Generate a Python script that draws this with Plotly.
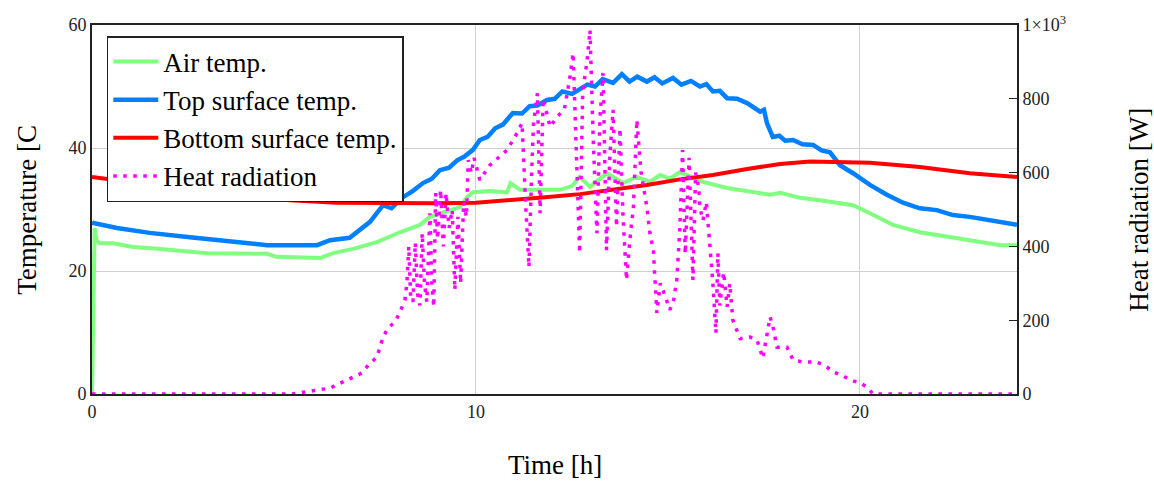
import plotly.graph_objects as go

# ---------------- data ----------------
air_t = [0, 0.03, 0.07, 0.12, 0.2, 0.55, 1.07, 1.7, 3.0, 4.56, 4.8, 5.94, 6.28, 6.8, 7.42,
         8.02, 8.54, 8.8, 9.3, 9.58, 9.77, 9.92, 10.36, 10.81, 10.9, 11.15, 12.19, 12.5,
         12.7, 12.97, 13.41, 13.83, 14.19, 14.53, 14.79, 15.05, 15.31, 15.91, 16.54, 17.21,
         17.66, 17.92, 18.44, 18.96, 19.48, 19.82, 20.26, 20.86, 21.56, 22.0, 22.86, 23.65, 24.09]
air_temp = [0, 12, 27, 25, 24.5, 24.5, 23.9, 23.6, 22.9, 22.8, 22.3, 22.1, 22.9, 23.6, 24.7,
            26.3, 27.5, 28.8, 29.8, 30.4, 32.0, 32.8, 33.0, 32.8, 34.3, 33.2, 33.2, 33.8,
            35.3, 33.7, 35.9, 34.3, 35.3, 34.5, 35.6, 35.0, 36.1, 34.5, 33.5, 32.8,
            32.4, 32.7, 31.9, 31.5, 31.1, 30.7, 29.4, 27.5, 26.3, 25.9, 25.0, 24.2, 24.2]

top_t = [0, 0.03, 0.65, 1.5, 2.55, 3.6, 4.56, 5.86, 6.2, 6.71, 6.98, 7.24, 7.58, 7.8, 8.1,
         8.35, 8.62, 8.85, 9.06, 9.3, 9.51, 9.7, 9.92, 10.1, 10.3, 10.5, 10.7, 10.96, 11.2,
         11.4, 11.6, 11.85, 12.05, 12.25, 12.5, 12.71, 12.9, 13.1, 13.3, 13.57, 13.8, 14.0,
         14.2, 14.45, 14.65, 14.85, 15.13, 15.35, 15.6, 15.83, 16.0, 16.17, 16.35, 16.54,
         16.8, 17.06, 17.25, 17.4, 17.5, 17.58, 17.73, 17.9, 18.05, 18.26, 18.5, 18.78, 19.0,
         19.22, 19.48, 19.82, 20.26, 20.7, 21.12, 21.56, 22.0, 22.42, 22.86, 23.31, 24.09]
top_temp = [28.0, 27.8, 27.0, 26.2, 25.5, 24.9, 24.2, 24.2, 25.0, 25.4, 26.7, 28.0, 30.7, 30.2, 32.0,
            33.0, 34.3, 35.0, 36.4, 36.8, 38.0, 38.6, 39.7, 41.3, 41.8, 43.2, 43.8, 45.7, 45.6,
            46.8, 46.9, 47.8, 48.0, 49.2, 48.8, 49.7, 50.3, 50.0, 51.2, 50.6, 52.0, 50.8,
            51.6, 50.8, 51.5, 50.5, 51.4, 50.3, 50.9, 50.0, 50.4, 49.2, 49.3, 48.1,
            48.0, 47.3, 46.6, 45.9, 46.2, 44.0, 41.8, 42.0, 41.2, 41.3, 40.6, 40.5, 39.6,
            39.3, 37.2, 35.9, 34.0, 32.4, 31.1, 30.2, 29.9, 29.1, 28.8, 28.3, 27.5]

bot_t = [0, 1.25, 2.55, 3.85, 5.16, 6.38, 7.5, 9.0, 10.0, 10.96, 11.8, 12.71, 13.57, 14.45,
         15.31, 16.17, 17.06, 17.92, 18.7, 19.48, 20.26, 21.56, 22.86, 24.09]
bot_temp = [35.3, 34.3, 33.2, 32.4, 31.5, 31.1, 31.0, 31.0, 31.1, 31.5, 32.0, 32.5, 33.2, 34.0,
            34.9, 35.6, 36.6, 37.4, 37.8, 37.7, 37.6, 36.9, 35.9, 35.3]

rad_t = [0, 1, 2, 3, 4, 5, 5.2, 5.7, 6.2, 6.64, 7.03, 7.2, 7.42, 7.58, 7.71, 7.89, 8.02, 8.15,
         8.2, 8.25, 8.3, 8.36, 8.42, 8.48, 8.54, 8.6, 8.66, 8.72, 8.8, 8.85, 8.9, 8.95, 9.0,
         9.08, 9.15, 9.22, 9.3, 9.38, 9.45, 9.53, 9.6, 9.68, 9.75, 9.8, 9.88, 9.95, 10.1,
         10.36, 10.6, 10.81, 11.07, 11.2, 11.3, 11.38, 11.45, 11.5, 11.6, 11.67, 11.75,
         11.85, 11.93, 12.11, 12.3, 12.45, 12.53, 12.6, 12.7, 12.78, 12.89, 12.97, 13.05,
         13.15, 13.23, 13.31, 13.4, 13.49, 13.57, 13.66, 13.75, 13.83, 13.92, 14.01, 14.1,
         14.19, 14.3, 14.45, 14.53, 14.62, 14.71, 14.8, 14.87, 15.05, 15.15, 15.23, 15.31,
         15.38, 15.45, 15.55, 15.65, 15.72, 15.8, 15.83, 15.91, 16.0, 16.09, 16.17, 16.25,
         16.3, 16.35, 16.45, 16.54, 16.61, 16.69, 16.88, 17.14, 17.32, 17.47, 17.66, 17.75,
         17.84, 18.1, 18.26, 18.52, 18.88, 19.14, 19.3, 19.56, 19.74, 20.0, 20.18, 20.34,
         21, 22, 23, 24]
rad_w = [0, 0, 0, 0, 0, 0, 0, 8, 16, 38, 57, 79, 100, 154, 179, 195, 222, 255,
         300, 400, 260, 250, 410, 270, 240, 436, 300, 250, 490, 300, 236, 545, 420,
         553, 400, 545, 450, 499, 282, 480, 300, 520, 480, 634, 599, 640, 580,
         620, 642, 661, 707, 734, 500, 344, 600, 734, 815, 490, 800,
         760, 724, 751, 770, 860, 924, 700, 382, 820, 900, 986, 700,
         436, 750, 870, 390, 650, 770, 453, 720, 480, 309, 420, 507,
         743, 600, 507, 436, 390, 220, 300, 282, 228, 255, 309, 450,
         661, 380, 640, 309, 600, 560, 507, 470, 520, 417, 300, 165,
         382, 240, 330, 236, 300, 200, 150, 154, 146, 97, 209, 175,
         127, 127, 92, 87, 87, 73, 60, 49, 38, 30, 19, 0,
         0, 0, 0, 0]

temp_ticks = [0, 20, 40, 60]
rad_ticks = [0, 200, 400, 600, 800, 1000]
rad_ticktext = ["0", "200", "400", "600", "800", "1×10<sup>3</sup>"]
time_ticks = [0, 10, 20]

FONT = "Liberation Serif"

fig = go.Figure()
fig.add_trace(go.Scatter(x=air_t, y=air_temp, mode="lines", name="Air temp.",
                         line=dict(color="#80FF80", width=4)))
fig.add_trace(go.Scatter(x=top_t, y=top_temp, mode="lines", name="Top surface temp.",
                         line=dict(color="#0080FF", width=4.5)))
fig.add_trace(go.Scatter(x=bot_t, y=bot_temp, mode="lines", name="Bottom surface temp.",
                         line=dict(color="#FF0000", width=4)))
fig.add_trace(go.Scatter(x=rad_t, y=rad_w, mode="lines", name="Heat radiation",
                         line=dict(color="#FF00FF", width=3.5, dash="3.5px,6.5px"), yaxis="y2"))

fig.update_layout(
    width=1154, height=483,
    margin=dict(l=92, r=137, t=25, b=89),
    paper_bgcolor="white", plot_bgcolor="white",
    font=dict(family=FONT, size=18, color="#222"),
    showlegend=True,
    legend=dict(x=0.016, y=0.970, xanchor="left", yanchor="top",
                bgcolor="white", bordercolor="#222", borderwidth=1.5,
                font=dict(family=FONT, size=27, color="black"),
                itemwidth=45, tracegroupgap=0),
    xaxis=dict(range=[0, 24.09], tickvals=time_ticks, showgrid=True, gridcolor="#d0d0d0",
               gridwidth=1, showline=True, linecolor="#222", linewidth=2, mirror=True,
               ticks="", zeroline=False, tickfont=dict(size=18, family=FONT)),
    yaxis=dict(range=[0, 60], tickvals=temp_ticks, showgrid=True, gridcolor="#d0d0d0",
               gridwidth=1, showline=True, linecolor="#222", linewidth=2, mirror=False,
               ticks="", zeroline=False, tickfont=dict(size=18, family=FONT)),
    yaxis2=dict(range=[0, 1000], tickvals=rad_ticks, ticktext=rad_ticktext, overlaying="y",
                side="right", showgrid=False, showline=True, linecolor="#222", linewidth=2,
                ticks="inside", ticklen=8, tickcolor="#222", zeroline=False,
                tickfont=dict(size=18, family=FONT)),
    annotations=[
        dict(text="Temperature [C", x=-0.071, y=0.5, xref="paper", yref="paper",
             textangle=-90, showarrow=False, font=dict(family=FONT, size=27, color="black"),
             xanchor="center", yanchor="middle"),
        dict(text="Heat radiation [W]", x=1.131, y=0.5, xref="paper", yref="paper",
             textangle=-90, showarrow=False, font=dict(family=FONT, size=27, color="black"),
             xanchor="center", yanchor="middle"),
        dict(text="Time [h]", x=0.5, y=-0.192, xref="paper", yref="paper",
             showarrow=False, font=dict(family=FONT, size=27, color="black"),
             xanchor="center", yanchor="middle"),
    ],
)

fig.write_html("out.html", config={"displayModeBar": False},
               post_script="document.body.style.margin='0px';")
